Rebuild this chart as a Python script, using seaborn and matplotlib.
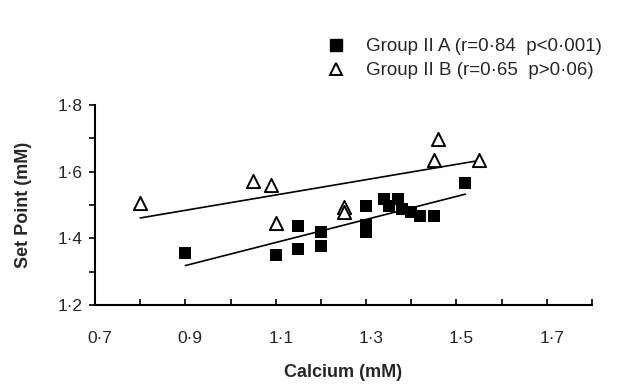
import matplotlib
matplotlib.use("Agg")
import numpy as np
import pandas as pd
import seaborn as sns
import matplotlib.pyplot as plt
from matplotlib.lines import Line2D
from matplotlib.ticker import FixedLocator, FixedFormatter, MultipleLocator
from matplotlib.transforms import ScaledTranslation

# ---- data ----
a_calcium = [0.90, 1.10, 1.15, 1.15, 1.20, 1.20, 1.30, 1.30, 1.30, 1.34, 1.35,
             1.37, 1.38, 1.40, 1.42, 1.45, 1.52]
a_setpoint = [1.357, 1.351, 1.437, 1.369, 1.418, 1.376, 1.498, 1.44, 1.42, 1.517,
              1.498, 1.517, 1.488, 1.48, 1.468, 1.468, 1.567]
b_calcium = [0.80, 1.05, 1.09, 1.10, 1.25, 1.25, 1.46, 1.45, 1.55]
b_setpoint = [1.505, 1.573, 1.56, 1.445, 1.493, 1.48, 1.697, 1.635, 1.635]

a_label = "Group II A (r=0\u00b784  p<0\u00b7001)"
b_label = "Group II B (r=0\u00b765  p>0\u00b706)"
x_label = "Calcium (mM)"
y_label = "Set Point (mM)"
x_ticks = [0.7, 0.9, 1.1, 1.3, 1.5, 1.7]
x_ticklabels = ["0\u00b77", "0\u00b79", "1\u00b71", "1\u00b73", "1\u00b75", "1\u00b77"]
y_ticks = [1.2, 1.4, 1.6, 1.8]
y_ticklabels = ["1\u00b72", "1\u00b74", "1\u00b76", "1\u00b78"]

df_a = pd.DataFrame({"x": a_calcium, "y": a_setpoint})
df_b = pd.DataFrame({"x": b_calcium, "y": b_setpoint})

sns.set_theme(style="white")
plt.rcParams["font.family"] = ["Liberation Sans", "DejaVu Sans"]

fig = plt.figure(figsize=(6.18, 3.9), dpi=100)
ax = fig.add_axes([95 / 618, 1 - 305 / 390, 497 / 618, 200 / 390])

# regression lines
sns.regplot(data=df_a, x="x", y="y", ax=ax, scatter=False, ci=None,
            line_kws=dict(color="black", lw=1.2))
sns.regplot(data=df_b, x="x", y="y", ax=ax, scatter=False, ci=None,
            line_kws=dict(color="black", lw=1.2))

# points
sns.scatterplot(data=df_a, x="x", y="y", ax=ax, marker="s", s=80,
                color="black", edgecolor="black", linewidth=0, zorder=3)
sns.scatterplot(data=df_b, x="x", y="y", ax=ax, marker="^", s=90,
                facecolor="white", edgecolor="black", linewidth=1.4, zorder=3)

ax.set_xlim(0.7, 1.8)
ax.set_ylim(1.2, 1.8)
ax.xaxis.set_major_locator(FixedLocator(x_ticks))
ax.xaxis.set_major_formatter(FixedFormatter(x_ticklabels))
ax.xaxis.set_minor_locator(MultipleLocator(0.1))
ax.yaxis.set_major_locator(FixedLocator(y_ticks))
ax.yaxis.set_major_formatter(FixedFormatter(y_ticklabels))
ax.yaxis.set_minor_locator(MultipleLocator(0.1))

ax.tick_params(axis="x", which="both", direction="in", length=4, width=1.2,
               color="black", bottom=True, labelsize=12.5, pad=19)
ax.tick_params(axis="y", which="both", direction="out", length=4, width=1.2,
               color="black", left=True, labelsize=12.5, pad=5)

offset = ScaledTranslation(5 / 100, 0, fig.dpi_scale_trans)
for lab in ax.get_xticklabels():
    lab.set_transform(lab.get_transform() + offset)

for s in ["top", "right"]:
    ax.spines[s].set_visible(False)
for s in ["left", "bottom"]:
    ax.spines[s].set_color("black")
    ax.spines[s].set_linewidth(1.5)

ax.set_xlabel(x_label, fontsize=13, fontweight="bold", labelpad=13)
ax.set_ylabel(y_label, fontsize=13, fontweight="bold", labelpad=18)

handles = [
    Line2D([], [], marker="s", linestyle="none", markersize=8,
           markerfacecolor="black", markeredgecolor="black"),
    Line2D([], [], marker="^", linestyle="none", markersize=8,
           markerfacecolor="white", markeredgecolor="black", markeredgewidth=1.4),
]
fig.legend(handles, [a_label, b_label], loc="upper left",
           bbox_to_anchor=(328 / 618, 1 - 38 / 390), frameon=False,
           fontsize=13.5, handlelength=0.8, handletextpad=1.2,
           labelspacing=0.38, borderpad=0, borderaxespad=0)

fig.savefig("out.png", dpi=100)
